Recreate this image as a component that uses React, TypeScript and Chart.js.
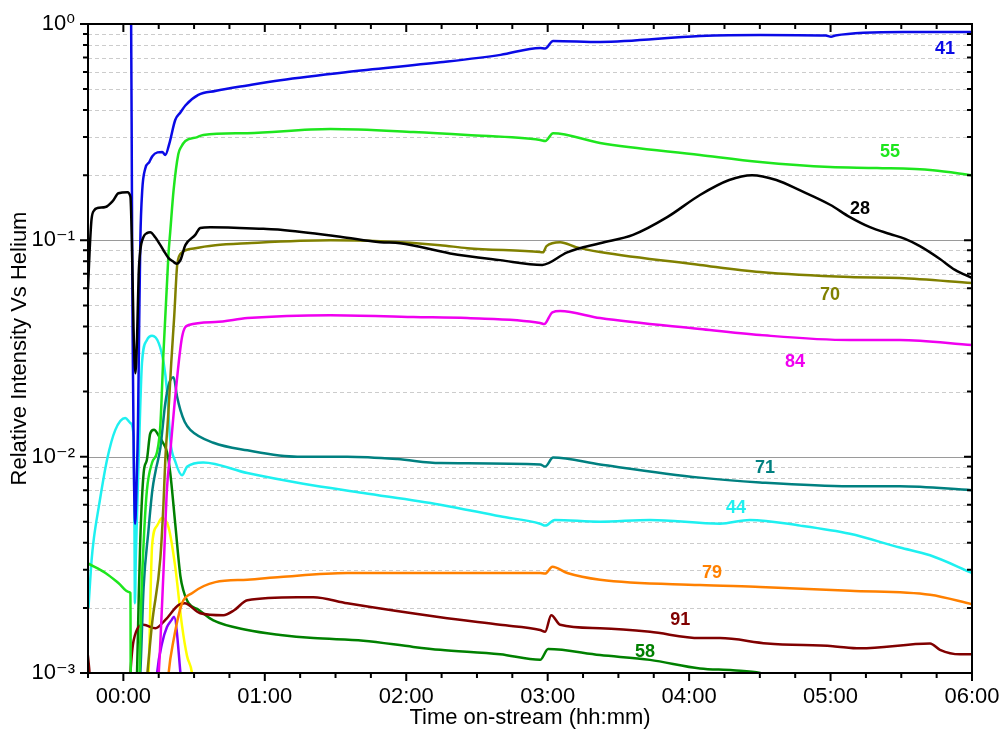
import React, { useEffect, useRef } from 'react';
import { Chart, registerables } from 'chart.js';

Chart.register(...registerables);

type Pt = [number, number];

// time in minutes on-stream, value = relative intensity vs helium
const s41: Pt[] = [
  [2.6, 1.6], [3.3, 1.0], [3.6, 0.2], [3.9, 0.04], [4.4, 0.01], [5.0, 0.0049], [5.6, 0.0075], [6.2, 0.014],
  [6.7, 0.04], [7.2, 0.1], [8.0, 0.17], [9.3, 0.215], [11.0, 0.23], [12.3, 0.245], [14.5, 0.255], [16.5, 0.256],
  [17.8, 0.248], [19.5, 0.28], [22.0, 0.36], [24.2, 0.39], [26.3, 0.42], [31.8, 0.47], [39.0, 0.49], [52.6, 0.52],
  [66.6, 0.55], [95.0, 0.6], [134.4, 0.665], [160.0, 0.72], [176.8, 0.775], [178.9, 0.77], [182.3, 0.835],
  [202.2, 0.826], [244.6, 0.88], [270.1, 0.89], [298.0, 0.885], [300.2, 0.872], [302.0, 0.885], [330.7, 0.918],
  [360.0, 0.918],
];

const s55: Pt[] = [
  [-14.8, 0.0032], [-7.6, 0.0029], [-2.0, 0.0026], [2.3, 0.00237], [3.0, 0.00234], [3.15, 0.0008], [6.7, 0.0008],
  [6.9, 0.001], [7.5, 0.002], [8.6, 0.004], [10.0, 0.007], [12.2, 0.0094], [14.3, 0.0105], [15.7, 0.014],
  [17.0, 0.03], [19.1, 0.085], [19.9, 0.11], [21.3, 0.17], [23.3, 0.25], [24.5, 0.27], [26.3, 0.288], [31.4, 0.3],
  [33.9, 0.307], [52.6, 0.313], [87.8, 0.327], [123.0, 0.317], [145.9, 0.307], [176.8, 0.291], [179.0, 0.288],
  [182.3, 0.313], [202.2, 0.282], [244.6, 0.248], [270.1, 0.23], [299.8, 0.218], [319.7, 0.216], [343.4, 0.211],
  [360.0, 0.2],
];

const s28: Pt[] = [
  [-15.0, 0.06], [-14.3, 0.09], [-13.5, 0.125], [-12.3, 0.138], [-11.0, 0.141], [-7.6, 0.1425], [-4.5, 0.152],
  [-2.1, 0.165], [1.7, 0.167], [3.0, 0.159], [3.6, 0.1], [4.3, 0.04], [5.1, 0.0243], [5.8, 0.035], [6.5, 0.07],
  [7.2, 0.09], [8.6, 0.104], [10.0, 0.108], [11.4, 0.109], [13.6, 0.103], [15.7, 0.095], [17.0, 0.09],
  [19.1, 0.083], [21.0, 0.08], [22.5, 0.078], [24.2, 0.081], [26.3, 0.095], [30.5, 0.106], [32.6, 0.114],
  [36.9, 0.115], [59.4, 0.113], [66.6, 0.112], [92.0, 0.104], [109.0, 0.098], [117.4, 0.097], [138.6, 0.087],
  [159.8, 0.081], [177.7, 0.077], [188.3, 0.088], [202.2, 0.097], [216.2, 0.106], [230.7, 0.128], [244.6, 0.162],
  [257.0, 0.19], [266.7, 0.2], [277.0, 0.19], [287.1, 0.17], [299.8, 0.146], [308.2, 0.128], [316.7, 0.115],
  [325.2, 0.107], [331.6, 0.1015], [337.9, 0.094], [346.4, 0.082], [352.8, 0.073], [360.0, 0.067],
];

const s70: Pt[] = [
  [9.8, 0.0009], [10.2, 0.001], [12.2, 0.0017], [15.7, 0.0034], [17.0, 0.006], [17.8, 0.0097], [19.1, 0.016],
  [20.3, 0.027], [21.6, 0.045], [22.9, 0.078], [24.9, 0.088], [30.5, 0.092], [39.0, 0.095], [52.6, 0.097],
  [87.8, 0.1], [109.0, 0.099], [134.4, 0.095], [145.9, 0.092], [176.8, 0.0883], [178.0, 0.088], [179.5, 0.094],
  [185.3, 0.098], [192.0, 0.093], [202.2, 0.0883], [244.6, 0.077], [270.1, 0.0714], [308.2, 0.0677],
  [329.4, 0.067], [360.0, 0.0635],
];

const s84: Pt[] = [
  [14.6, 0.0009], [15.0, 0.001], [17.0, 0.0029], [18.5, 0.0071], [19.9, 0.0105], [22.0, 0.0189], [24.9, 0.0357],
  [27.7, 0.0406], [39.0, 0.0419], [52.6, 0.0437], [87.8, 0.0451], [123.0, 0.0442], [145.9, 0.0437],
  [176.8, 0.0415], [178.5, 0.041], [182.0, 0.0465], [185.3, 0.0471], [202.2, 0.0437], [244.6, 0.0389],
  [270.1, 0.0365], [308.2, 0.0346], [329.4, 0.0346], [360.0, 0.0328],
];

const s71: Pt[] = [
  [6.9, 0.0009], [7.2, 0.001], [8.6, 0.0025], [10.6, 0.0045], [12.3, 0.007], [13.6, 0.0085], [15.7, 0.011],
  [17.8, 0.0177], [19.5, 0.022], [21.3, 0.0233], [22.8, 0.0189], [24.2, 0.0164], [26.0, 0.0145], [28.4, 0.0133],
  [38.2, 0.0116], [52.6, 0.0107], [73.8, 0.01], [95.0, 0.01], [116.2, 0.00975], [134.4, 0.00934], [176.8, 0.0092],
  [178.9, 0.009], [182.3, 0.0099], [202.2, 0.0092], [244.6, 0.008], [270.1, 0.0076], [308.2, 0.0073],
  [329.4, 0.0073], [360.0, 0.007],
];

const s44: Pt[] = [
  [-14.8, 0.002], [-13.5, 0.0033], [-12.5, 0.0042], [-10.5, 0.0058], [-6.9, 0.0097], [-3.4, 0.0133], [0.8, 0.0151],
  [3.0, 0.0143], [4.4, 0.0123], [4.7, 0.005], [4.9, 0.0021], [5.3, 0.0035], [6.5, 0.0097], [7.9, 0.0271],
  [10.0, 0.0346], [12.2, 0.0362], [15.0, 0.0335], [17.1, 0.0271], [18.5, 0.0203], [19.9, 0.0119], [22.0, 0.0095],
  [24.9, 0.0082], [27.1, 0.009], [33.9, 0.0094], [52.6, 0.0084], [76.3, 0.0075], [101.8, 0.0068], [134.4, 0.006],
  [159.8, 0.0053], [176.8, 0.0049], [179.0, 0.0048], [183.0, 0.0051], [202.2, 0.005], [223.4, 0.0051],
  [253.1, 0.0049], [265.8, 0.0051], [287.1, 0.0048], [308.2, 0.0044], [329.4, 0.0038], [342.2, 0.0035],
  [360.0, 0.0029],
];

const s79: Pt[] = [
  [18.9, 0.0009], [19.2, 0.001], [21.3, 0.00142], [24.9, 0.0021], [29.1, 0.00234], [39.0, 0.00263],
  [52.6, 0.0027], [66.6, 0.00278], [95.0, 0.0029], [134.4, 0.0029], [176.8, 0.0029], [178.9, 0.00288],
  [182.0, 0.0031], [188.3, 0.0029], [202.2, 0.0027], [244.6, 0.00255], [270.1, 0.0025], [308.2, 0.0024],
  [342.2, 0.0023], [360.0, 0.00208],
];

const s91: Pt[] = [
  [-15.2, 0.00125], [-14.5, 0.00105], [-14.0, 0.0009], [2.8, 0.0009], [3.0, 0.001], [4.4, 0.00142],
  [8.6, 0.00167], [13.6, 0.00161], [17.8, 0.00176], [23.4, 0.00206], [26.0, 0.0021], [32.6, 0.00189],
  [42.4, 0.00185], [47.0, 0.00195], [52.6, 0.00217], [73.8, 0.00224], [80.6, 0.00224], [95.0, 0.0021],
  [134.4, 0.00181], [159.8, 0.00167], [176.8, 0.00158], [178.9, 0.00155], [181.5, 0.00185], [185.3, 0.00167],
  [202.2, 0.00161], [223.4, 0.00155], [244.6, 0.00145], [253.1, 0.00145], [273.1, 0.00137], [301.0, 0.00133],
  [312.5, 0.0013], [342.2, 0.00137], [346.4, 0.00128], [354.9, 0.00122], [360.0, 0.00122],
];

const s58: Pt[] = [
  [5.6, 0.0009], [5.8, 0.001], [6.5, 0.0022], [7.2, 0.0042], [8.6, 0.0084], [10.0, 0.0097], [11.4, 0.0128],
  [13.0, 0.0133], [15.0, 0.0125], [17.0, 0.0115], [18.5, 0.0105], [19.9, 0.0084], [22.0, 0.0049], [24.2, 0.0028],
  [25.5, 0.0024], [27.7, 0.0021], [31.9, 0.00196], [38.2, 0.00175], [52.6, 0.00158], [66.6, 0.0015],
  [80.6, 0.00145], [101.8, 0.00141], [123.0, 0.00132], [134.4, 0.00128], [159.8, 0.00122], [176.8, 0.00115],
  [180.2, 0.00129], [202.2, 0.00121], [223.4, 0.00115], [244.6, 0.00105], [258.6, 0.00103], [270.1, 0.001],
  [275.0, 0.00095],
];

const sYellow: Pt[] = [
  [10.4, 0.0009], [10.7, 0.001], [12.2, 0.0039], [14.3, 0.0048], [16.4, 0.0052], [19.2, 0.0047], [22.0, 0.0031],
  [24.9, 0.00165], [27.0, 0.0012], [29.1, 0.001], [29.5, 0.0009],
];

const sPurple: Pt[] = [
  [14.0, 0.0009], [14.3, 0.001], [16.4, 0.00137], [18.5, 0.00163], [20.5, 0.00176], [21.5, 0.00182],
  [24.2, 0.001], [24.5, 0.0009],
];

// axis ticks
const xMin = -15;
const xMax = 360;
const xMinorStep = 15;
const xMajorTicks = [0, 60, 120, 180, 240, 300, 360];
const xTickLabels = ['00:00', '01:00', '02:00', '03:00', '04:00', '05:00', '06:00'];
const yDecades = [0.001, 0.01, 0.1, 1];
const yTickLabels = ['10\u207B\u00B3', '10\u207B\u00B2', '10\u207B\u00B9', '10\u2070'];
const yMinorMultipliers = [2, 3, 4, 5, 6, 7, 8, 9];

// series label annotations (data coordinates)
const labelTexts = ['41', '55', '28', '70', '84', '71', '44', '79', '91', '58'];
const labelTimes = [348.5, 325.2, 312.5, 299.8, 284.9, 272.2, 259.9, 249.7, 236.2, 221.3];
const labelValues = [0.77, 0.257, 0.139, 0.0558, 0.0274, 0.00886, 0.00579, 0.0029, 0.00176, 0.00125];

const FONT = "'Liberation Sans', Arial, 'DejaVu Sans', sans-serif";

const seriesList = [
  { name: '28', points: s28, color: '#000000' },
  { name: '41', points: s41, color: '#0a0ae6' },
  { name: '55', points: s55, color: '#1ee61e' },
  { name: '70', points: s70, color: '#808000' },
  { name: '84', points: s84, color: '#f000f0' },
  { name: '71', points: s71, color: '#008080' },
  { name: '44', points: s44, color: '#1ef0f0' },
  { name: '79', points: s79, color: '#ff8000' },
  { name: '91', points: s91, color: '#800000' },
  { name: '58', points: s58, color: '#008000' },
  { name: 'yellow', points: sYellow, color: '#ffff00' },
  { name: 'purple', points: sPurple, color: '#8800ff' },
];

const xTickValues: number[] = [];
for (let v = xMin; v <= xMax; v += xMinorStep) xTickValues.push(v);
const yTickValues: number[] = [];
yDecades.forEach((d, i) => {
  yTickValues.push(d);
  if (i < yDecades.length - 1) yMinorMultipliers.forEach((m) => yTickValues.push(d * m));
});
yTickValues.sort((a, b) => a - b);

const isDecade = (v: number) => yDecades.some((d) => Math.abs(v - d) / d < 1e-6);

const framePlugin = {
  id: 'framePlugin',
  beforeDatasetsDraw(chart: any) {
    const { ctx, chartArea: a, scales } = chart;
    const y = scales.y;
    ctx.save();
    ctx.lineWidth = 1;
    ctx.strokeStyle = '#cccccc';
    ctx.setLineDash([4, 3]);
    yTickValues.forEach((v) => {
      if (isDecade(v)) return;
      const py = Math.round(y.getPixelForValue(v)) + 0.5;
      ctx.beginPath();
      ctx.moveTo(a.left, py);
      ctx.lineTo(a.right, py);
      ctx.stroke();
    });
    ctx.setLineDash([]);
    ctx.strokeStyle = '#9a9a9a';
    yDecades.forEach((v) => {
      const py = Math.round(y.getPixelForValue(v)) + 0.5;
      ctx.beginPath();
      ctx.moveTo(a.left, py);
      ctx.lineTo(a.right, py);
      ctx.stroke();
    });
    ctx.restore();
  },
  afterDatasetsDraw(chart: any) {
    const { ctx, chartArea: a, scales } = chart;
    const x = scales.x;
    const y = scales.y;
    ctx.save();
    ctx.strokeStyle = '#000';
    ctx.lineWidth = 2;
    ctx.strokeRect(a.left, a.top, a.right - a.left, a.bottom - a.top);
    ctx.beginPath();
    xTickValues.forEach((v) => {
      const px = x.getPixelForValue(v);
      const len = xMajorTicks.includes(v) ? 8 : 5;
      ctx.moveTo(px, a.bottom);
      ctx.lineTo(px, a.bottom + len);
      ctx.moveTo(px, a.top);
      ctx.lineTo(px, a.top + len);
    });
    yTickValues.forEach((v) => {
      const py = y.getPixelForValue(v);
      const len = isDecade(v) ? 8 : 5;
      ctx.moveTo(a.left - len, py);
      ctx.lineTo(a.left, py);
      ctx.moveTo(a.right - len, py);
      ctx.lineTo(a.right, py);
    });
    ctx.stroke();

    ctx.font = `bold 18px ${FONT}`;
    ctx.textAlign = 'center';
    ctx.textBaseline = 'middle';
    labelTexts.forEach((t, i) => {
      const s = seriesList.find((k) => k.name === t);
      ctx.fillStyle = s ? s.color : '#000';
      ctx.fillText(t, x.getPixelForValue(labelTimes[i]), y.getPixelForValue(labelValues[i]));
    });
    ctx.restore();
  },
};

export default function App() {
  const ref = useRef<HTMLCanvasElement>(null);
  useEffect(() => {
    if (!ref.current) return;
    Chart.defaults.font.family = FONT;
    Chart.defaults.color = '#000';
    const chart = new Chart(ref.current, {
      type: 'line',
      data: {
        datasets: seriesList.map((s) => ({
          label: s.name,
          data: s.points.map(([t, v]) => ({ x: t, y: v })),
          borderColor: s.color,
          backgroundColor: s.color,
          borderWidth: 2.5,
          pointRadius: 0,
          fill: false,
          cubicInterpolationMode: 'monotone' as const,
        })),
      },
      options: {
        responsive: false,
        animation: false,
        layout: { padding: { left: 0, top: 24, right: 32, bottom: 0 } },
        plugins: { legend: { display: false }, tooltip: { enabled: false } },
        scales: {
          x: {
            type: 'linear',
            min: xMin,
            max: xMax,
            afterBuildTicks: (s: any) => {
              s.ticks = xTickValues.map((v) => ({ value: v }));
            },
            afterFit: (s: any) => {
              s.height = 58;
              s.paddingLeft = 0;
              s.paddingRight = 0;
            },
            ticks: {
              autoSkip: false,
              maxRotation: 0,
              minRotation: 0,
              padding: 11,
              color: '#000',
              font: { size: 22, family: FONT },
              callback: (v: any) => {
                const i = xMajorTicks.indexOf(Number(v));
                return i >= 0 ? xTickLabels[i] : '';
              },
            },
            grid: { display: false, drawTicks: false },
            border: { display: false },
            title: {
              display: true,
              text: 'Time on-stream (hh:mm)',
              color: '#000',
              font: { size: 22, family: FONT },
              padding: { top: 0, bottom: 0 },
            },
          },
          y: {
            type: 'logarithmic',
            min: 0.001,
            max: 1,
            afterBuildTicks: (s: any) => {
              s.ticks = yTickValues.map((v) => ({ value: v }));
            },
            afterFit: (s: any) => {
              s.width = 88;
              s.paddingTop = 0;
              s.paddingBottom = 0;
            },
            ticks: {
              autoSkip: false,
              padding: 13,
              color: '#000',
              font: { size: 22, family: FONT },
              callback: (v: any) => {
                const n = Number(v);
                const i = yDecades.findIndex((d) => Math.abs(n - d) / d < 1e-6);
                return i >= 0 ? yTickLabels[i] : '';
              },
            },
            grid: { display: false, drawTicks: false },
            border: { display: false },
            title: {
              display: true,
              text: 'Relative Intensity Vs Helium',
              color: '#000',
              font: { size: 22, family: FONT },
              padding: { top: 7, bottom: 0 },
            },
          },
        },
      },
      plugins: [framePlugin],
    } as any);
    return () => chart.destroy();
  }, []);
  return (
    <div style={{ position: 'fixed', left: 0, top: 0, width: 1004, height: 731, background: '#fff' }}>
      <canvas ref={ref} width={1004} height={731} style={{ display: 'block', width: 1004, height: 731 }} />
    </div>
  );
}
